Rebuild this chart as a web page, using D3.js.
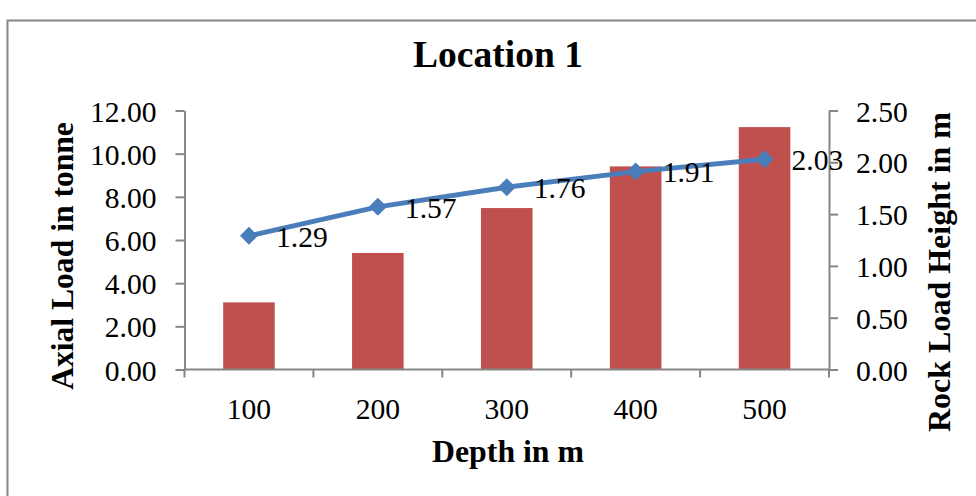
<!DOCTYPE html>
<html>
<head>
<meta charset="utf-8">
<script src="https://cdn.jsdelivr.net/npm/d3@7"></script>
<style>
  html, body { margin: 0; padding: 0; background: #fff; }
  svg { display: block; }
  text { font-family: "Liberation Serif", "Times New Roman", serif; fill: #000; }
</style>
</head>
<body>
<svg id="chart" width="976" height="496"></svg>
<script>
// Depth categories and the two measured series
const depths = ["100", "200", "300", "400", "500"];
const axialLoad = [3.11, 5.40, 7.48, 9.41, 11.23];      // tonne, bars (left axis)
const rockLoadHeight = [1.29, 1.57, 1.76, 1.91, 2.03];  // m, line (right axis)
const leftTicks = [0, 2, 4, 6, 8, 10, 12];
const rightTicks = [0, 0.5, 1.0, 1.5, 2.0, 2.5];

const svg = d3.select("#chart");
const W = 976, H = 496;
const plot = { left: 184.5, right: 829, top: 110.5, bottom: 369.5 };
const axisColor = "#868686";

// Outer frame of the chart object
svg.append("rect")
  .attr("x", 7.5).attr("y", 20.5)
  .attr("width", W + 10).attr("height", H)
  .attr("fill", "none").attr("stroke", axisColor).attr("stroke-width", 2);

const x = d3.scaleBand().domain(depths)
  .range([plot.left, plot.right])
  .paddingInner(0.6).paddingOuter(0.3);
const yLeft = d3.scaleLinear().domain([0, 12]).range([plot.bottom, plot.top]);
const yRight = d3.scaleLinear().domain([0, 2.5]).range([plot.bottom, plot.top]);

// Bars
svg.append("g").selectAll("rect").data(depths).join("rect")
  .attr("x", d => x(d))
  .attr("width", x.bandwidth())
  .attr("y", (d, i) => yLeft(axialLoad[i]))
  .attr("height", (d, i) => plot.bottom - yLeft(axialLoad[i]))
  .attr("fill", "#C0504D");

// Axes
function styleAxis(g) {
  g.select(".domain").attr("stroke", axisColor).attr("stroke-width", 2);
  g.selectAll(".tick line").attr("stroke", axisColor).attr("stroke-width", 2);
  g.selectAll(".tick text").style("font-size", "29.6px").attr("fill", "#000");
}

svg.append("g")
  .attr("transform", `translate(${plot.left},0)`)
  .call(d3.axisLeft(yLeft).tickValues(leftTicks).tickFormat(d3.format(".2f"))
        .tickSize(9).tickSizeOuter(0).tickPadding(19))
  .call(styleAxis)
  .call(g => g.selectAll(".tick text").attr("dy", "0.36em"));

svg.append("g")
  .attr("transform", `translate(${plot.right},0)`)
  .call(d3.axisRight(yRight).tickValues(rightTicks).tickFormat(d3.format(".2f"))
        .tickSize(9).tickSizeOuter(0).tickPadding(18))
  .call(styleAxis)
  .call(g => g.selectAll(".tick text").attr("dy", "0.36em"));

// Category axis: ticks sit on the band boundaries
const step = x.step();
const boundaries = d3.range(depths.length + 1).map(i => plot.left + i * (plot.right - plot.left) / depths.length);
const gx = svg.append("g");
gx.append("line")
  .attr("x1", plot.left).attr("x2", plot.right)
  .attr("y1", plot.bottom).attr("y2", plot.bottom)
  .attr("stroke", axisColor).attr("stroke-width", 2);
gx.selectAll("line.tk").data(boundaries).join("line").attr("class", "tk")
  .attr("x1", d => d).attr("x2", d => d)
  .attr("y1", plot.bottom).attr("y2", plot.bottom + 8)
  .attr("stroke", axisColor).attr("stroke-width", 2);
gx.selectAll("text").data(depths).join("text")
  .attr("x", d => x(d) + x.bandwidth() / 2)
  .attr("y", 418.5)
  .attr("text-anchor", "middle")
  .style("font-size", "29.6px")
  .text(d => d);

// Line series on the right axis
const cx = d => x(d) + x.bandwidth() / 2;
const line = d3.line()
  .x((d, i) => cx(depths[i]))
  .y(d => yRight(d));
svg.append("path")
  .datum(rockLoadHeight)
  .attr("d", line)
  .attr("fill", "none")
  .attr("stroke", "#4A7EBB")
  .attr("stroke-width", 5)
  .attr("stroke-linejoin", "round");

svg.append("g").selectAll("path").data(rockLoadHeight).join("path")
  .attr("transform", (d, i) => `translate(${cx(depths[i])},${yRight(d)})`)
  .attr("d", "M0,-9L9,0L0,9L-9,0Z")
  .attr("fill", "#4A7EBB");

// Data labels
svg.append("g").selectAll("text").data(rockLoadHeight).join("text")
  .attr("x", (d, i) => cx(depths[i]) + 27)
  .attr("y", d => yRight(d))
  .attr("dy", "0.36em")
  .style("font-size", "29.6px")
  .text(d => d3.format(".2f")(d));

// Titles
svg.append("text")
  .attr("x", 498).attr("y", 66.5)
  .attr("text-anchor", "middle")
  .style("font-size", "37.5px").style("font-weight", "bold")
  .text("Location 1");

svg.append("text")
  .attr("x", 508).attr("y", 462)
  .attr("text-anchor", "middle")
  .style("font-size", "31.8px").style("font-weight", "bold")
  .text("Depth in m");

svg.append("text")
  .attr("transform", "translate(73,256) rotate(-90)")
  .attr("text-anchor", "middle")
  .style("font-size", "31.6px").style("font-weight", "bold")
  .text("Axial Load in tonne");

svg.append("text")
  .attr("transform", "translate(950,272) rotate(-90)")
  .attr("text-anchor", "middle")
  .style("font-size", "32px").style("font-weight", "bold")
  .text("Rock Load Height in m");
</script>
</body>
</html>
